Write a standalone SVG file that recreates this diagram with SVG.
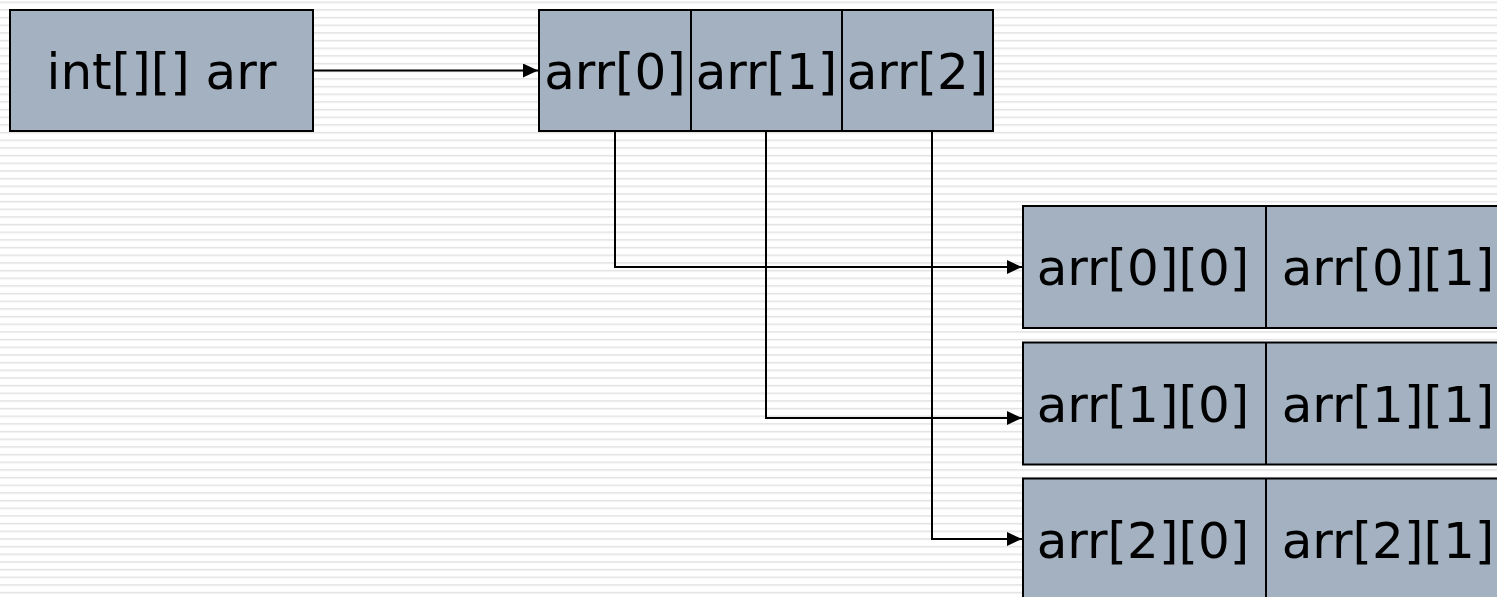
<svg xmlns="http://www.w3.org/2000/svg" width="1497" height="597" viewBox="0 0 1497 597">
  <defs>
    <pattern id="stripes" patternUnits="userSpaceOnUse" x="0" y="1.5" width="20" height="7.667">
      <rect x="0" y="0" width="20" height="7.667" fill="#ffffff"/>
      <rect x="0" y="0" width="20" height="1" fill="#e2e2e2"/>
      <rect x="0" y="1" width="20" height="1" fill="#efefef"/>
    </pattern>
    <marker id="arrow" viewBox="0 0 15 14" refX="15" refY="7" markerWidth="15" markerHeight="14" markerUnits="userSpaceOnUse" orient="auto">
      <path d="M0,0 L15,7 L0,14 Z" fill="#000"/>
    </marker>
    <style>
      .box { fill: #a3b1c0; stroke: #000; stroke-width: 2; }
      .div { stroke: #000; stroke-width: 2; }
      .lbl { font-family: "DejaVu Sans", Verdana, sans-serif; font-size: 50px; fill: #000; text-anchor: middle; }
      .conn { fill: none; stroke: #000; stroke-width: 2; }
    </style>
  </defs>
  <rect x="0" y="0" width="1497" height="597" fill="url(#stripes)"/>

  <g id="connectors">
    <path class="conn" d="M313,70.5 H538" marker-end="url(#arrow)"/>
    <path class="conn" d="M615,131 V267 H1022" marker-end="url(#arrow)"/>
    <path class="conn" d="M766,131 V418 H1022" marker-end="url(#arrow)"/>
    <path class="conn" d="M932,131 V539 H1022" marker-end="url(#arrow)"/>
  </g>

  <g id="node-arr">
    <rect class="box" x="10" y="10" width="303" height="121"/>
    <text class="lbl" x="161.5" y="89">int[][] arr</text>
  </g>

  <g id="node-outer">
    <rect class="box" x="539" y="10" width="454" height="121"/>
    <line class="div" x1="691" y1="10" x2="691" y2="131"/>
    <line class="div" x1="842" y1="10" x2="842" y2="131"/>
    <text class="lbl" x="615" y="89">arr[0]</text>
    <text class="lbl" x="766.5" y="89">arr[1]</text>
    <text class="lbl" x="917.5" y="89">arr[2]</text>
  </g>

  <g id="node-row0">
    <rect class="box" x="1023" y="206" width="486" height="122"/>
    <line class="div" x1="1266" y1="206" x2="1266" y2="328"/>
    <text class="lbl" x="1143" y="285">arr[0][0]</text>
    <text class="lbl" x="1388" y="285">arr[0][1]</text>
  </g>

  <g id="node-row1">
    <rect class="box" x="1023" y="342.5" width="486" height="122"/>
    <line class="div" x1="1266" y1="342.5" x2="1266" y2="464.5"/>
    <text class="lbl" x="1143" y="421.5">arr[1][0]</text>
    <text class="lbl" x="1388" y="421.5">arr[1][1]</text>
  </g>

  <g id="node-row2">
    <rect class="box" x="1023" y="478.5" width="486" height="122"/>
    <line class="div" x1="1266" y1="478.5" x2="1266" y2="600"/>
    <text class="lbl" x="1143" y="557.5">arr[2][0]</text>
    <text class="lbl" x="1388" y="557.5">arr[2][1]</text>
  </g>
</svg>
